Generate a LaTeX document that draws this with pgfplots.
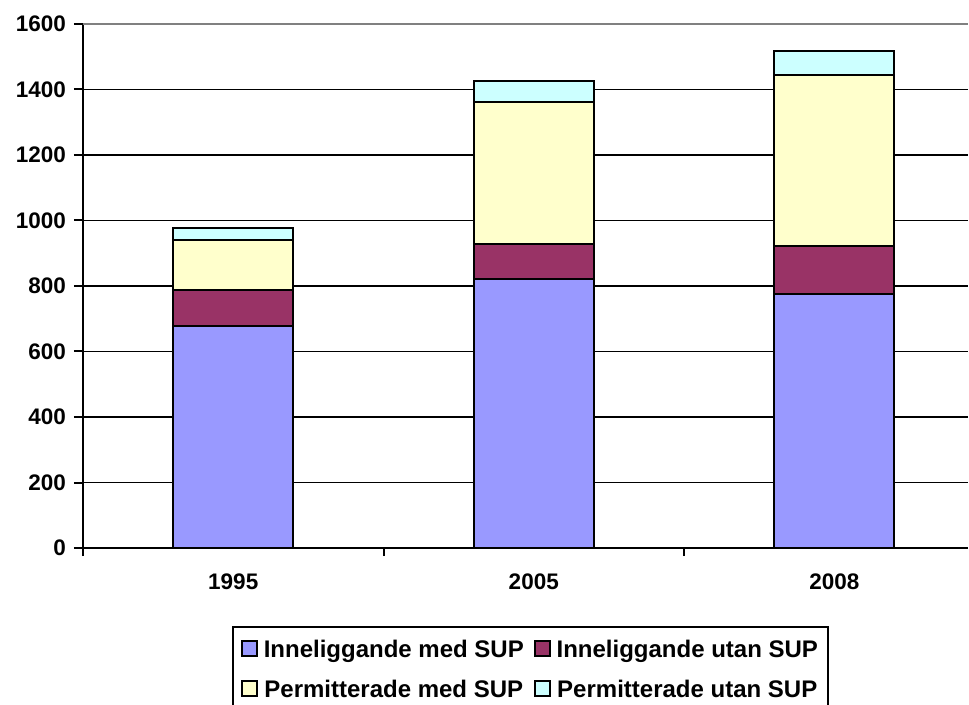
\documentclass[border=0pt]{standalone}
\usepackage{fontspec}
\setmainfont{Liberation Sans}
\usepackage{pgfplots}
\pgfplotsset{compat=1.18}

\definecolor{cMedIn}{HTML}{9999FF}
\definecolor{cUtanIn}{HTML}{993366}
\definecolor{cMedPerm}{HTML}{FFFFCC}
\definecolor{cUtanPerm}{HTML}{CCFFFF}

\begin{document}
\begin{tikzpicture}
% page frame, 1pt = 1px of the reference
\useasboundingbox (-83pt,-156pt) rectangle (886pt,548pt);
\begin{axis}[
    at={(0,0)}, anchor=south west,
    scale only axis,
    width=885pt, height=524pt,
    ybar stacked,
    bar width=120pt,
    xmin=-0.5, xmax=2.445,
    ymin=0, ymax=1600,
    axis lines*=left,
    axis line style={line width=2pt},
    xtick={0,1,2},
    xticklabels={1995,2005,2008},
    major x tick style={draw=none},
    minor xtick={-0.5,0.5,1.5},
    ytick={0,200,...,1400},
    extra y ticks={1600},
    extra y tick style={grid style={gray, line width=1.8pt}},
    ymajorgrids,
    grid style={black, line width=1.8pt},
    tick align=outside,
    major tick length=9pt,
    minor tick length=8pt,
    tick style={black, line width=2pt},
    ticklabel style={font=\fontsize{22.5}{26}\selectfont\bfseries},
    xticklabel style={yshift=-13pt},
    yticklabel style={xshift=-4.5pt},
    /pgf/number format/assume math mode=true,
    /pgf/number format/1000 sep={},
    legend columns=2,
    legend style={
        at={(0.5056,-0.1485)}, anchor=north,
        draw=black, line width=2pt,
        font=\fontsize{24}{28}\selectfont\bfseries,
        row sep=17pt,
        /tikz/every odd column/.append style={column sep=4pt},
        /tikz/every even column/.append style={column sep=8pt},
        inner xsep=8pt, inner ysep=11pt,
    },
    legend image code/.code={
        \draw[#1, line width=1.8pt] (0pt,-7pt) rectangle (15pt,8pt);
    },
]
\addplot[fill=cMedIn, draw=black, line width=2.2pt] coordinates {(0,678) (1,821) (2,776)};
\addplot[fill=cUtanIn, draw=black, line width=2.2pt] coordinates {(0,110) (1,107) (2,146)};
\addplot[fill=cMedPerm, draw=black, line width=2.2pt] coordinates {(0,152) (1,434) (2,522)};
\addplot[fill=cUtanPerm, draw=black, line width=2.2pt] coordinates {(0,37) (1,64) (2,74)};
\legend{Inneliggande med SUP, Inneliggande utan SUP, Permitterade med SUP, Permitterade utan SUP}
\end{axis}
\end{tikzpicture}
\end{document}
